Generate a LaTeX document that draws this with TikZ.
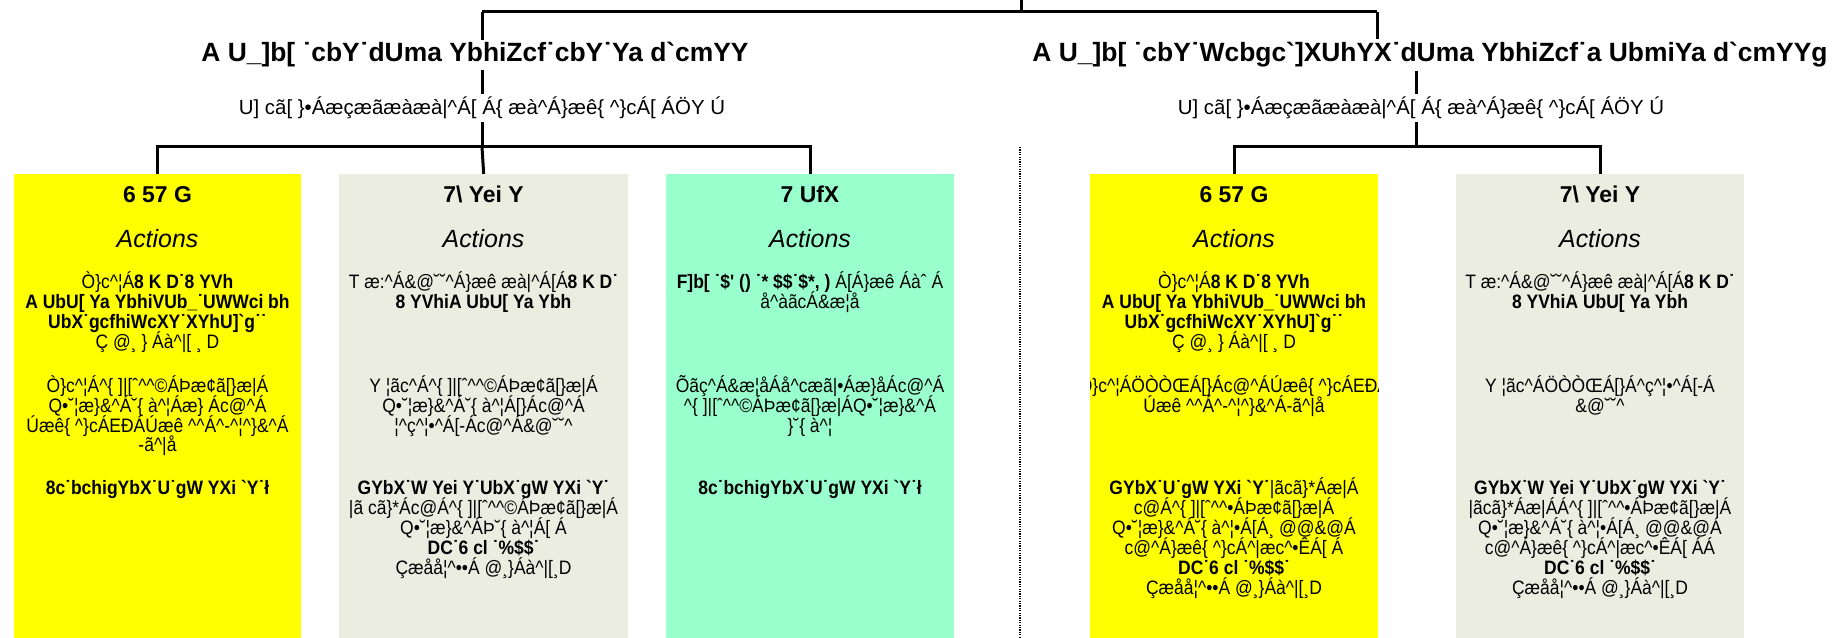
\documentclass[tikz,border=0pt]{standalone}
\usepackage{fontspec}
\setmainfont{Liberation Sans}[Ligatures=TeXOff]
\newfontfamily\narrowsans{Liberation Sans}[Ligatures=TeXOff, FakeStretch=0.9]
\usetikzlibrary{backgrounds}
\newcommand\crt{\textasciicircum}
\tikzset{
  wire/.style={line width=3bp, black},
  sepline/.style={line width=2bp, black, dash pattern=on 1.2bp off 1.2bp},
  ttl/.style={font=\fontsize{26.5}{30}\selectfont\bfseries, fill=white, inner sep=3bp},
  subttl/.style={font=\fontsize{20.5}{24}\selectfont, fill=white, inner sep=3bp},
  hdr/.style={anchor=base, inner sep=0pt, font=\fontsize{23}{26}\selectfont\bfseries},
  act/.style={anchor=base, inner sep=0pt, font=\fontsize{25}{30}\selectfont\itshape},
  ln/.style={anchor=base, inner sep=0pt, font=\narrowsans\fontsize{19.5}{20}\selectfont},
  lnb/.style={anchor=base, inner sep=0pt, font=\narrowsans\fontsize{19.5}{20}\selectfont\bfseries},
  panel/.style={anchor=north west, inner sep=0pt, minimum height=464bp}
}
\definecolor{pyellow}{HTML}{FFFF00}
\definecolor{pgrey}{HTML}{EAEDDF}
\definecolor{pmint}{HTML}{99FFCC}
\begin{document}
\begin{tikzpicture}[x=1bp, y=-1bp]
\useasboundingbox (0,0) rectangle (1845,638);

% ---------- headings ----------
\node[ttl] (ltitle) at (475,55) {A U\_]b[ ˙cbY˙dUma YbhiZcf˙cbY˙Ya d`cmYY};
\node[subttl] (lsub) at (482,108) {U] cã[ \}•Áæçæãæàæà|\crt{}Á[ Á\{ æà\crt{}Á\}æê\{ \crt{}\}cÁ[ ÁÖY Ú};
\node[ttl] (rtitle) at (1430,55) {A U\_]b[ ˙cbY˙Wcbgc`]XUhYX˙dUma YbhiZcf˙a UbmiYa d`cmYYg};
\node[subttl] (rsub) at (1421,108) {U] cã[ \}•Áæçæãæàæà|\crt{}Á[ Á\{ æà\crt{}Á\}æê\{ \crt{}\}cÁ[ ÁÖY Ú};

% ---------- panels ----------
\node[panel, fill=pyellow, minimum width=287bp] (b1) at (14,174) {};
\node[panel, fill=pgrey,   minimum width=289bp] (b2) at (339,174) {};
\node[panel, fill=pmint,   minimum width=288bp] (b3) at (666,174) {};
\node[panel, fill=pyellow, minimum width=288bp] (b4) at (1090,174) {};
\node[panel, fill=pgrey,   minimum width=288bp] (b5) at (1456,174) {};

% ---------- tree connectors ----------
\coordinate (root) at (1021,0);
\coordinate (rootj) at (1021,12);
\coordinate (ltop) at (482,12);
\coordinate (rtop) at (1377,12);
\coordinate (lj) at (482,147);
\coordinate (rj) at (1416,147);
\coordinate (sepTop) at (1020,147);
\coordinate (sepBot) at (1020,638);
\begin{scope}[on background layer]
  \draw[wire] (root) -- (rootj);
  \draw[wire] (ltop) -- (rtop);
  \draw[wire] (ltop) -- (lj);
  \draw[wire] (rtop) -- (rtop |- rtitle.north);
  \draw[wire] (rj |- rtitle.south) -- (rj);
  \draw[wire] (b1.north) -- (b1.north |- lj) -- (b3.north |- lj) -- (b3.north);
  \draw[wire] (lj) -- (b2.north);
  \draw[wire] (b4.north) -- (b4.north |- rj) -- (b5.north |- rj) -- (b5.north);
\end{scope}
\draw[sepline] (sepTop) -- (sepBot);

% ---------- panel 1 ----------
\begin{scope}
\clip (b1.north west) rectangle (b1.south east);
\node[hdr] (b1h) at (157.5,203) {6 57 G};
\node[act] (b1a) at (157.5,248) {Actions};
\node[ln] (b1l1) at (157.5,288.5) {Ò\}c\crt{}¦Á\textbf{8 K D˙8 YVh}};
\node[lnb] (b1l2) at (157.5,308.5) {A UbU[ Ya YbhiVUb\_˙UWWci bh};
\node[lnb] (b1l3) at (157.5,328.5) {UbX˙gcfhiWcXY˙XYhU]`g˙˙};
\node[ln] (b1l4) at (157.5,348.5) {Ç @¸ \} Áà\crt{}|[ ¸ D};
\node[ln] (b1l5) at (157.5,392.5) {Ò\}c\crt{}¦Á\crt{}\{ ]|[ˆ\crt{}\crt{}©ÁÞæ¢ã[\}æ|Á};
\node[ln] (b1l6) at (157.5,412.5) {Q•˘¦æ\}\&\crt{}Á˘\{ à\crt{}¦Áæ\} Ác@\crt{}Á};
\node[ln] (b1l7) at (157.5,432.5) {Úæê\{ \crt{}\}cÁEÐÁÚæê \crt{}\crt{}Á\crt{}-\crt{}¦\crt{}\}\&\crt{}Á};
\node[ln] (b1l8) at (157.5,451.5) {-ã\crt{}|å};
\node[lnb] (b1l9) at (157.5,494.5) {8c˙bchigYbX˙U˙gW YXi `Y˙ł};
\end{scope}

% ---------- panel 2 ----------
\begin{scope}
\clip (b2.north west) rectangle (b2.south east);
\node[hdr] (b2h) at (483.5,203) {7\textbackslash{} Yei Y};
\node[act] (b2a) at (483.5,248) {Actions};
\node[ln] (b2l1) at (483.5,288.5) {T æ:\crt{}Á\&@˘˘\crt{}Á\}æê æà|\crt{}Á[Á\textbf{8 K D˙}};
\node[lnb] (b2l2) at (483.5,308.5) {8 YVhiA UbU[ Ya Ybh};
\node[ln] (b2l3) at (483.5,392.5) {Y ¦ãc\crt{}Á\crt{}\{ ]|[ˆ\crt{}\crt{}©ÁÞæ¢ã[\}æ|Á};
\node[ln] (b2l4) at (483.5,412.5) {Q•˘¦æ\}\&\crt{}Á˘\{ à\crt{}¦Á[\}Ác@\crt{}Á};
\node[ln] (b2l5) at (483.5,432.5) {¦\crt{}ç\crt{}¦•\crt{}Á[-Ác@\crt{}Á\&@˘˘\crt{}};
\node[lnb] (b2l6) at (483.5,494.5) {GYbX˙W Yei Y˙UbX˙gW YXi `Y˙};
\node[ln] (b2l7) at (483.5,514.5) {|ã cã\}*Ác@Á\crt{}\{ ]|[ˆ\crt{}\crt{}©ÁÞæ¢ã[\}æ|Á};
\node[ln] (b2l8) at (483.5,534.5) {Q•˘¦æ\}\&\crt{}ÁÞ˘\{ à\crt{}¦Á[ Á};
\node[lnb] (b2l9) at (483.5,554.5) {DC˙6 cl ˙\%\$\$˙};
\node[ln] (b2l10) at (483.5,574.5) {Çæåå¦\crt{}••Á @¸\}Áà\crt{}|[¸D};
\end{scope}

% ---------- panel 3 ----------
\begin{scope}
\clip (b3.north west) rectangle (b3.south east);
\node[hdr] (b3h) at (810,203) {7 UfX};
\node[act] (b3a) at (810,248) {Actions};
\node[ln] (b3l1) at (810,288.5) {\textbf{F]b[ ˙\$' () ˙* \$\$˙\$*, )} Á[Á\}æê Áàˆ Á};
\node[ln] (b3l2) at (810,308.5) {å\crt{}àãcÁ\&æ¦å};
\node[ln] (b3l3) at (810,392.5) {Õãç\crt{}Á\&æ¦åÁå\crt{}cæã|•Áæ\}åÁc@\crt{}Á};
\node[ln] (b3l4) at (810,412.5) {\crt{}\{ ]|[ˆ\crt{}\crt{}©ÁÞæ¢ã[\}æ|ÁQ•˘¦æ\}\&\crt{}Á};
\node[ln] (b3l5) at (810,432.5) {\}˘\{ à\crt{}¦};
\node[lnb] (b3l6) at (810,494.5) {8c˙bchigYbX˙U˙gW YXi `Y˙ł};
\end{scope}

% ---------- panel 4 ----------
\begin{scope}
\clip (b4.north west) rectangle (b4.south east);
\node[hdr] (b4h) at (1234,203) {6 57 G};
\node[act] (b4a) at (1234,248) {Actions};
\node[ln] (b4l1) at (1234,288.5) {Ò\}c\crt{}¦Á\textbf{8 K D˙8 YVh}};
\node[lnb] (b4l2) at (1234,308.5) {A UbU[ Ya YbhiVUb\_˙UWWci bh};
\node[lnb] (b4l3) at (1234,328.5) {UbX˙gcfhiWcXY˙XYhU]`g˙˙};
\node[ln] (b4l4) at (1234,348.5) {Ç @¸ \} Áà\crt{}|[ ¸ D};
\node[ln] (b4l5) at (1234,392.5) {Ò\}c\crt{}¦ÁÖÒÒŒÁ[\}Ác@\crt{}ÁÚæê\{ \crt{}\}cÁEÐÁ};
\node[ln] (b4l6) at (1234,412.5) {Úæê \crt{}\crt{}Á\crt{}-\crt{}¦\crt{}\}\&\crt{}Á-ã\crt{}|å};
\node[ln] (b4l7) at (1234,494.5) {\textbf{GYbX˙U˙gW YXi `Y˙}|ãcã\}*Áæ|Á};
\node[ln] (b4l8) at (1234,514.5) {c@Á\crt{}\{ ]|[ˆ\crt{}\crt{}•ÁÞæ¢ã[\}æ|Á};
\node[ln] (b4l9) at (1234,534.5) {Q•˘¦æ\}\&\crt{}Á˘\{ à\crt{}¦•Á[Á¸ @@\&@Á};
\node[ln] (b4l10) at (1234,554.5) {c@\crt{}Á\}æê\{ \crt{}\}cÁ\crt{}|æc\crt{}•ÊÁ[ Á};
\node[lnb] (b4l11) at (1234,574.5) {DC˙6 cl ˙\%\$\$˙};
\node[ln] (b4l12) at (1234,594.5) {Çæåå¦\crt{}••Á @¸\}Áà\crt{}|[¸D};
\end{scope}

% ---------- panel 5 ----------
\begin{scope}
\clip (b5.north west) rectangle (b5.south east);
\node[hdr] (b5h) at (1600,203) {7\textbackslash{} Yei Y};
\node[act] (b5a) at (1600,248) {Actions};
\node[ln] (b5l1) at (1600,288.5) {T æ:\crt{}Á\&@˘˘\crt{}Á\}æê æà|\crt{}Á[Á\textbf{8 K D˙}};
\node[lnb] (b5l2) at (1600,308.5) {8 YVhiA UbU[ Ya Ybh};
\node[ln] (b5l3) at (1600,392.5) {Y ¦ãc\crt{}ÁÖÒÒŒÁ[\}Á\crt{}ç\crt{}¦•\crt{}Á[-Á};
\node[ln] (b5l4) at (1600,412.5) {\&@˘˘\crt{}};
\node[lnb] (b5l5) at (1600,494.5) {GYbX˙W Yei Y˙UbX˙gW YXi `Y˙};
\node[ln] (b5l6) at (1600,514.5) {|ãcã\}*Áæ|ÁÁ\crt{}\{ ]|[ˆ\crt{}\crt{}•ÁÞæ¢ã[\}æ|Á};
\node[ln] (b5l7) at (1600,534.5) {Q•˘¦æ\}\&\crt{}Á˘\{ à\crt{}¦•Á[Á¸ @@\&@Á};
\node[ln] (b5l8) at (1600,554.5) {c@\crt{}Á\}æê\{ \crt{}\}cÁ\crt{}|æc\crt{}•ÊÁ[ ÁÁ};
\node[lnb] (b5l9) at (1600,574.5) {DC˙6 cl ˙\%\$\$˙};
\node[ln] (b5l10) at (1600,594.5) {Çæåå¦\crt{}••Á @¸\}Áà\crt{}|[¸D};
\end{scope}
\end{tikzpicture}
\end{document}
